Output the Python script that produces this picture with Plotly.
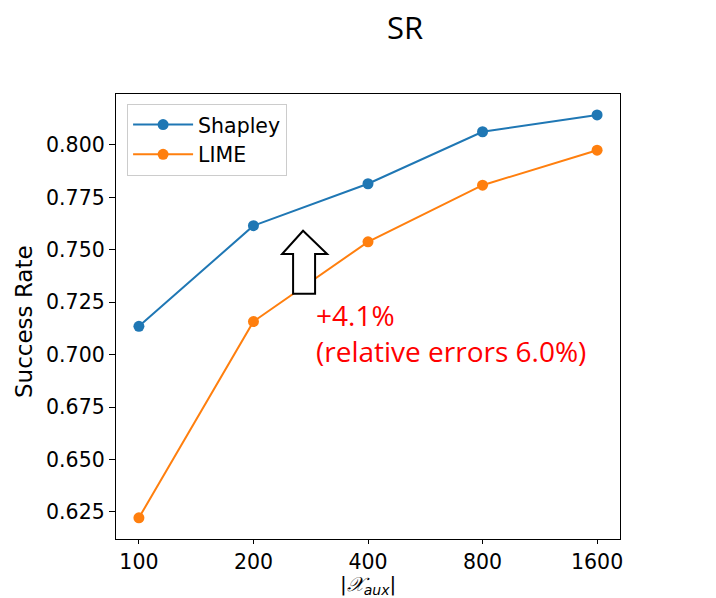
import plotly.graph_objects as go

sizes = ["100", "200", "400", "800", "1600"]
shapley = [0.7135, 0.7615, 0.7815, 0.8063, 0.8143]
lime = [0.6222, 0.7158, 0.7538, 0.7808, 0.7975]
yticks = [0.625, 0.650, 0.675, 0.700, 0.725, 0.750, 0.775, 0.800]

BLUE = "#1f77b4"
ORANGE = "#ff7f0e"
TICKFONT = dict(family="DejaVu Sans", size=20.5, color="black")

fig = go.Figure()
fig.add_trace(go.Scatter(x=sizes, y=shapley, mode="lines+markers", name="Shapley",
                         line=dict(color=BLUE, width=2), marker=dict(size=11, color=BLUE)))
fig.add_trace(go.Scatter(x=sizes, y=lime, mode="lines+markers", name="LIME",
                         line=dict(color=ORANGE, width=2), marker=dict(size=11, color=ORANGE)))

# hollow block arrow (in data coordinates of the category axis)
ax = [1.433, 1.643, 1.538, 1.538, 1.346, 1.346, 1.250]
ay = [0.7591, 0.7480, 0.7480, 0.7290, 0.7290, 0.7480, 0.7480]
path = "M " + " L ".join(f"{a},{b}" for a, b in zip(ax, ay)) + " Z"
fig.add_shape(type="path", path=path, xref="x", yref="y",
              line=dict(color="black", width=2), fillcolor="white")

fig.add_annotation(text="+4.1%<br>(relative errors 6.0%)", xref="paper", yref="paper",
                   x=(314 - 116) / 504, y=1 - (294 - 94) / 445, xanchor="left", yanchor="top",
                   align="left", showarrow=False,
                   font=dict(family="Open Sans", size=28, color="red"))

fig.add_annotation(text="SR", xref="paper", yref="paper",
                   x=(405 - 116) / 504, y=1 + (94 - 27) / 445, xanchor="center", yanchor="middle",
                   showarrow=False, font=dict(family="Open Sans", size=31, color="black"))

fig.add_annotation(text="Success Rate", xref="paper", yref="paper",
                   x=(24 - 116) / 504, y=1 - (322 - 94) / 445, textangle=-90,
                   xanchor="center", yanchor="middle",
                   showarrow=False, font=dict(family="DejaVu Sans", size=23, color="black"))

fig.add_annotation(text="|<i>𝒳</i><sub><i>aux</i></sub>|", xref="paper", yref="paper",
                   x=0.5, y=-(585 - 539) / 445, xanchor="center", yanchor="middle",
                   showarrow=False, borderpad=0,
                   font=dict(family="DejaVu Sans", size=20, color="black"))

fig.update_layout(
    width=716, height=598,
    margin=dict(l=116, r=96, t=94, b=59),
    plot_bgcolor="white", paper_bgcolor="white",
    showlegend=True,
    legend=dict(x=0.022, y=0.978, xanchor="left", yanchor="top",
                bgcolor="white", bordercolor="#cccccc", borderwidth=1,
                font=dict(family="DejaVu Sans", size=20.5, color="black"),
                itemwidth=60, tracegroupgap=2),
    xaxis=dict(type="category", range=[-0.2, 4.2], showgrid=False, zeroline=False,
               showline=True, linecolor="black", linewidth=1.3, mirror=True,
               ticks="outside", ticklen=4, tickcolor="black", tickfont=TICKFONT),
    yaxis=dict(range=[0.6121, 0.8243], showgrid=False, zeroline=False,
               tickvals=yticks, ticktext=[f"{v:.3f}" for v in yticks],
               showline=True, linecolor="black", linewidth=1.3, mirror=True,
               ticks="outside", ticklen=6, tickcolor="black", tickfont=TICKFONT),
)

fig.write_html("out.html", config={"displayModeBar": False},
               post_script="document.body.style.margin='0';")
